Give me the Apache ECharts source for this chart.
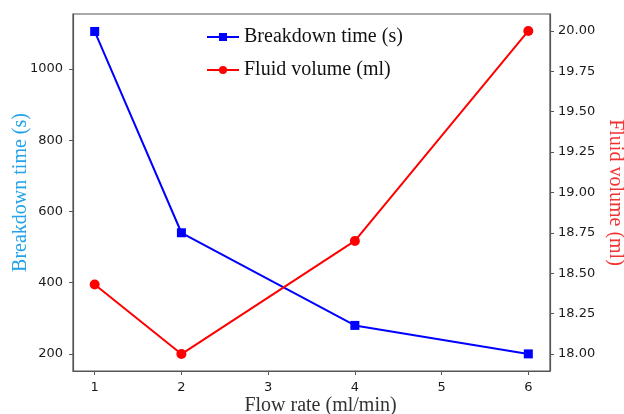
<!DOCTYPE html>
<html>
<head>
<meta charset="utf-8">
<script src="https://cdn.jsdelivr.net/npm/echarts@6/dist/echarts.min.js"></script>
<style>
  html, body { margin: 0; padding: 0; background: #fff; }
  #chart { width: 624px; height: 414px; }
</style>
</head>
<body>
<div id="chart"></div>
<script>
var flowRate = [1, 2, 4, 6];
var breakdownTime = [1105, 540, 280, 200];
var fluidVolume = [18.43, 18.0, 18.7, 20.0];
var xTicks = [1, 2, 3, 4, 5, 6];
var leftTicks = [200, 400, 600, 800, 1000];
var rightTicks = [18.0, 18.25, 18.5, 18.75, 19.0, 19.25, 19.5, 19.75, 20.0];

function pairs(xs, ys) {
  return xs.map(function (x, i) { return [x, ys[i]]; });
}

var chart = echarts.init(document.getElementById('chart'));
var tickFont = { fontFamily: 'DejaVu Sans', fontSize: 13, color: '#1a1a1a' };
var option = {
  animation: false,
  grid: { left: 73, right: 74, top: 14, bottom: 43, outerBoundsMode: 'none', containLabel: false,
          show: true, borderColor: '#555', borderWidth: 1.2 },
  legend: {
    top: 22, left: 201, orient: 'vertical',
    itemWidth: 32, itemHeight: 10, itemGap: 13,
    textStyle: { fontFamily: 'Liberation Serif', fontSize: 20, color: '#111' },
    data: ['Breakdown time (s)', 'Fluid volume (ml)']
  },
  xAxis: {
    type: 'value', min: 0.75, max: 6.25,
    name: 'Flow rate (ml/min)', nameLocation: 'middle', nameGap: 25, nameMoveOverlap: false,
    nameTextStyle: { fontFamily: 'Liberation Serif', fontSize: 20, color: '#333', padding: [0, 0, 0, 18] },
    axisLine: { lineStyle: { color: '#555', width: 1.2 } },
    axisTick: { customValues: xTicks, length: 4, lineStyle: { color: '#555' } },
    axisLabel: Object.assign({ customValues: xTicks, margin: 10, formatter: function (v) { return String(v); } }, tickFont),
    splitLine: { show: false }
  },
  yAxis: [{
    type: 'value', min: 152, max: 1154, position: 'left',
    name: 'Breakdown time (s)', nameLocation: 'middle', nameGap: 42, nameMoveOverlap: false,
    nameTextStyle: { fontFamily: 'Liberation Serif', fontSize: 20, color: '#22a2ea' },
    axisLine: { show: true, lineStyle: { color: '#555', width: 1.2 } },
    axisTick: { show: true, customValues: leftTicks, length: 4, lineStyle: { color: '#555' } },
    axisLabel: Object.assign({ customValues: leftTicks, margin: 10, formatter: function (v) { return String(v); } }, tickFont),
    splitLine: { show: false }
  }, {
    type: 'value', min: 17.895, max: 20.105, position: 'right',
    name: 'Fluid volume (ml)', nameLocation: 'middle', nameGap: 55, nameRotate: -90, nameMoveOverlap: false,
    nameTextStyle: { fontFamily: 'Liberation Serif', fontSize: 20, color: '#f23333' },
    axisLine: { show: true, lineStyle: { color: '#555', width: 1.2 } },
    axisTick: { show: true, customValues: rightTicks, length: 4, lineStyle: { color: '#555' } },
    axisLabel: Object.assign({ customValues: rightTicks, margin: 8, formatter: function (v) { return v.toFixed(2); } }, tickFont),
    splitLine: { show: false }
  }],
  series: [{
    name: 'Breakdown time (s)', type: 'line', yAxisIndex: 0,
    data: pairs(flowRate, breakdownTime),
    symbol: 'rect', symbolSize: 9,
    itemStyle: { color: '#0000ff' },
    lineStyle: { color: '#0000ff', width: 2 }
  }, {
    name: 'Fluid volume (ml)', type: 'line', yAxisIndex: 1,
    data: pairs(flowRate, fluidVolume),
    symbol: 'circle', symbolSize: 10,
    itemStyle: { color: '#ff0000' },
    lineStyle: { color: '#ff0000', width: 2 }
  }]
};
chart.setOption(option);
</script>
</body>
</html>
